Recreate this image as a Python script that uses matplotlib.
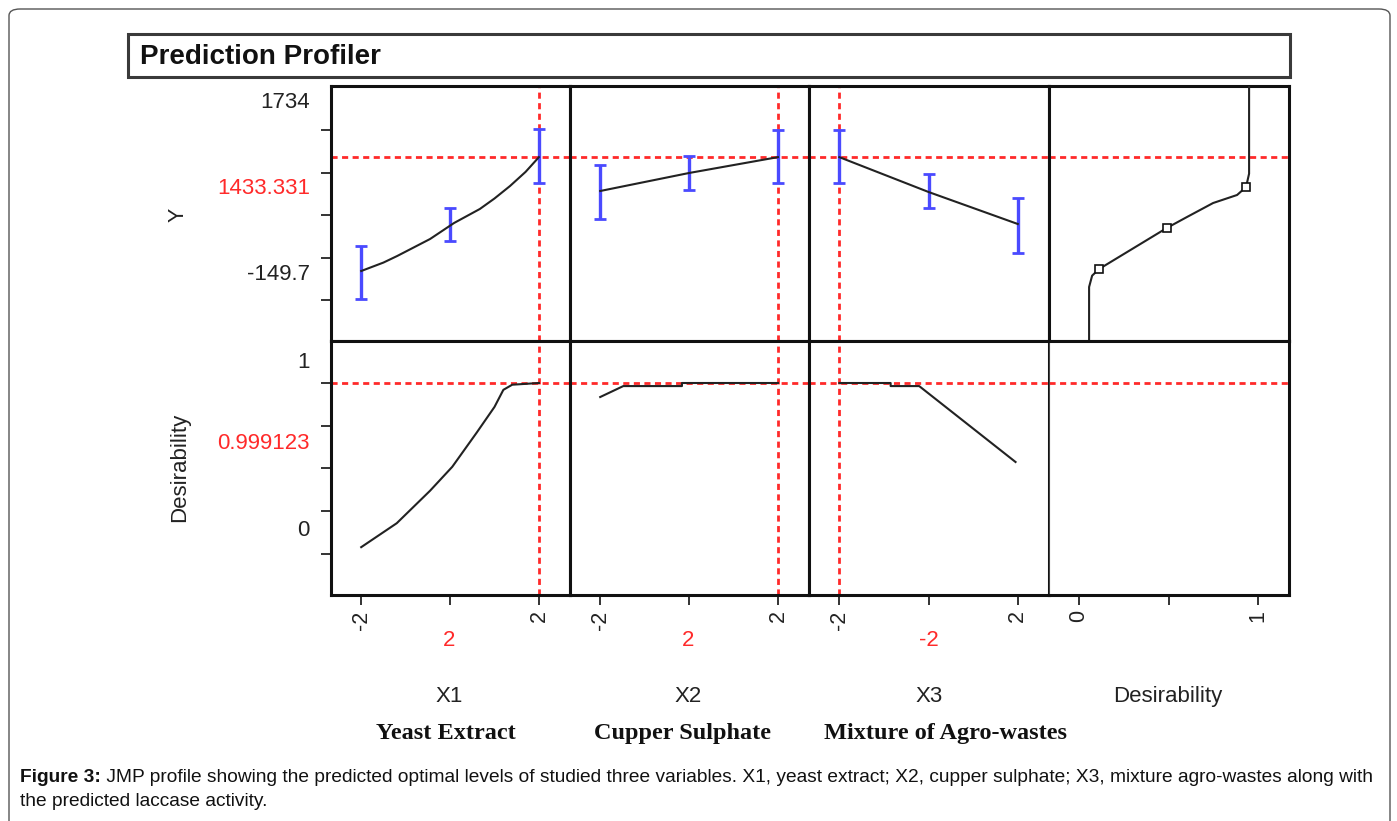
import matplotlib
matplotlib.use('Agg')
import matplotlib.pyplot as plt
from matplotlib.patches import FancyBboxPatch, Rectangle
from matplotlib import font_manager

# ---------------- data ----------------
factors = ['X1', 'X2', 'X3']
factor_names = ['Yeast Extract', 'Cupper Sulphate', 'Mixture of Agro-wastes']
levels = [-2, 0, 2]
level_tick_labels = ['-2', '', '2']
current_level = [2, 2, -2]
current_label = ['2', '2', '-2']

y_current = 1433.331
d_current = 0.999123
y_ticks = [-149.7, 321.2, 792.2, 1263.1, 1734]
d_ticks = [0, 0.25, 0.5, 0.75, 1]
d_col_ticks = [0, 0.5, 1]
d_col_labels = ['0', '', '1']

# predicted Y traces
x1_trace_x = [-2, -1.5, -1.19, -0.45, 0.09, 0.67, 1.0, 1.35, 1.7, 2]
x1_trace_y = [171.6, 265, 337.9, 526.2, 703.5, 858.7, 975, 1113.5, 1270, 1433.3]
x2_trace_x = [-2, 0, 2]
x2_trace_y = [1058.1, 1257.6, 1433.3]
x3_trace_x = [-2, 0, 2]
x3_trace_y = [1433.3, 1047.1, 692.5]

# confidence intervals at the design levels
x1_ci_low = [-138.6, 504.1, 1146.8]
x1_ci_high = [448.7, 869.7, 1745.2]
x2_ci_low = [747.9, 1069.2, 1146.8]
x2_ci_high = [1346.2, 1446.0, 1734.0]
x3_ci_low = [1146.8, 869.7, 371.1]
x3_ci_high = [1734.0, 1246.5, 980.6]

# desirability traces
x1_des_x = [-2, -1.2, -0.45, 0.05, 0.6, 1.0, 1.2, 1.4, 2.0]
x1_des_d = [0.04, 0.18, 0.37, 0.51, 0.71, 0.86, 0.96, 0.99, 1.0]
x2_des_x = [-2, -1.48, -0.16, -0.16, 2]
x2_des_d = [0.918, 0.982, 0.982, 1.0, 1.0]
x3_des_x = [-2, -0.85, -0.85, -0.21, 1.95]
x3_des_d = [1.0, 1.0, 0.982, 0.982, 0.538]

# desirability function (d on x, Y on y)
dfun_d = [0.056, 0.056, 0.073, 0.112, 0.49, 0.603, 0.749, 0.883, 0.933, 0.95, 0.95]
dfun_y = [-604, -5.7, 120, 193.8, 648.1, 770, 925, 1014, 1102.4, 1250, 2222]
dfun_marker_d = [0.112, 0.49, 0.933]
dfun_marker_y = [193.8, 648.1, 1102.4]

# ---------------- figure ----------------
W, H = 1397, 821
fig = plt.figure(figsize=(W / 100, H / 100), dpi=100)


def fx(px):
    return px / W


def fy(py):
    return 1 - py / H


SANS = ['Liberation Sans', 'DejaVu Sans']
SERIF = ['Liberation Serif', 'DejaVu Serif']

# outer rounded border
outer = FancyBboxPatch((fx(9), fy(900)), fx(1390) - fx(9), fy(9) - fy(900),
                       boxstyle="round,pad=0,rounding_size=0.008",
                       transform=fig.transFigure, fill=False,
                       edgecolor='#555555', linewidth=1.0)
fig.patches.append(outer)

# title box
tb = Rectangle((fx(128), fy(77)), fx(1290) - fx(128), fy(34) - fy(77),
               transform=fig.transFigure, fill=False, edgecolor='#3a3a3a',
               linewidth=2.2)
fig.patches.append(tb)
fig.text(fx(140), fy(57), 'Prediction Profiler', fontsize=20, fontweight='bold',
         family=SANS, color='#111111', ha='left', va='center')

col_edges = [331, 570, 809, 1049, 1289]
row_edges = [86, 341, 595]

Y_LIM = (-604.0, 2221.6)
D_LIM = (-0.2398, 1.2456)
X_LIM = (-2.68, 2.70)
DC_LIM = (-0.168, 1.173)

RED = '#ff2a2a'
BLUE = '#4a4aff'
LINE = '#222222'
dash = (0, (2.2, 1.6))

traces = [(x1_trace_x, x1_trace_y), (x2_trace_x, x2_trace_y), (x3_trace_x, x3_trace_y)]
cis = [(x1_ci_low, x1_ci_high), (x2_ci_low, x2_ci_high), (x3_ci_low, x3_ci_high)]
dtraces = [(x1_des_x, x1_des_d), (x2_des_x, x2_des_d), (x3_des_x, x3_des_d)]

axes = {}
for r in range(2):
    for c in range(4):
        l, rr = col_edges[c], col_edges[c + 1]
        t, b = row_edges[r], row_edges[r + 1]
        ax = fig.add_axes([fx(l), fy(b), fx(rr) - fx(l), fy(t) - fy(b)])
        ax.set_xlim(DC_LIM if c == 3 else X_LIM)
        ax.set_ylim(Y_LIM if r == 0 else D_LIM)
        for s in ax.spines.values():
            s.set_linewidth(2.2)
            s.set_color('#111111')
        ax.tick_params(length=0, labelleft=False, labelbottom=False)
        ax.set_xticks([])
        ax.set_yticks([])
        axes[(r, c)] = ax

# top row: Y profiles
for c in range(3):
    ax = axes[(0, c)]
    tx, ty = traces[c]
    lo, hi = cis[c]
    centers = [(a + b) / 2 for a, b in zip(lo, hi)]
    half = [(b - a) / 2 for a, b in zip(lo, hi)]
    ax.errorbar(levels, centers, yerr=half, fmt='none', ecolor=BLUE,
                elinewidth=2.4, capsize=4, capthick=2.0, zorder=3)
    ax.plot(tx, ty, color=LINE, lw=1.5, zorder=4)
    ax.axhline(y_current, color=RED, lw=2, linestyle=dash, zorder=2)
    ax.axvline(current_level[c], color=RED, lw=2, linestyle=dash, zorder=2)

# top-right desirability function
ax = axes[(0, 3)]
ax.plot(dfun_d, dfun_y, color=LINE, lw=1.5, zorder=4)
ax.plot(dfun_marker_d, dfun_marker_y, linestyle='none', marker='s', ms=6,
        mfc='white', mec='#111111', mew=1.2, zorder=5)
ax.axhline(y_current, color=RED, lw=2, linestyle=dash, zorder=2)

# bottom row desirability traces
for c in range(3):
    ax = axes[(1, c)]
    dx, dd = dtraces[c]
    ax.plot(dx, dd, color=LINE, lw=1.5, zorder=4)
    ax.axhline(d_current, color=RED, lw=2, linestyle=dash, zorder=2)
    ax.axvline(current_level[c], color=RED, lw=2, linestyle=dash, zorder=2)
ax = axes[(1, 3)]
ax.axhline(d_current, color=RED, lw=2, linestyle=dash, zorder=2)
ax.spines['left'].set_linewidth(0.8)
ax.spines['left'].set_color('#444444')

# ticks
tick_kw = dict(direction='out', length=7, width=1.4, color='#333333')
axes[(0, 0)].set_yticks(y_ticks)
axes[(0, 0)].tick_params(axis='y', labelleft=False, **tick_kw)
axes[(1, 0)].set_yticks(d_ticks)
axes[(1, 0)].tick_params(axis='y', labelleft=False, **tick_kw)
for c in range(3):
    a = axes[(1, c)]
    a.set_xticks(levels)
    a.set_xticklabels(level_tick_labels, rotation=90, family=SANS, fontsize=15.5,
                      color='#222222')
    a.tick_params(axis='x', labelbottom=True, pad=4, **tick_kw)
a = axes[(1, 3)]
a.set_xticks(d_col_ticks)
a.set_xticklabels(d_col_labels, rotation=90, family=SANS, fontsize=15.5, color='#222222')
a.tick_params(axis='x', labelbottom=True, pad=4, **tick_kw)

# y-axis labels (JMP style positions)
lab = dict(family=SANS, fontsize=16, ha='right', va='center')
fig.text(fx(310), fy(103), '1734', color='#222222', **lab)
fig.text(fx(310), fy(188), '1433.331', color=RED, **lab)
fig.text(fx(310), fy(274), '-149.7', color='#222222', **lab)
fig.text(fx(310), fy(362), '1', color='#222222', **lab)
fig.text(fx(310), fy(443), '0.999123', color=RED, **lab)
fig.text(fx(310), fy(530), '0', color='#222222', **lab)
fig.text(fx(178), fy(215), 'Y', rotation=90, family=SANS, fontsize=15.5,
         color='#222222', ha='center', va='center')
fig.text(fx(180), fy(467), 'Desirability', rotation=90, family=SANS, fontsize=16,
         color='#222222', ha='center', va='center')

# current values and factor labels
cur_x = [449, 688, 929]
for c in range(3):
    fig.text(fx(cur_x[c]), fy(640), current_label[c], color=RED, family=SANS,
             fontsize=16, ha='center', va='center')
    fig.text(fx(cur_x[c]), fy(696), factors[c], color='#222222', family=SANS,
             fontsize=16, ha='center', va='center')
fig.text(fx(1168), fy(696), 'Desirability', color='#222222', family=SANS,
         fontsize=16, ha='center', va='center')
name_x = [446, 683, 946]
for c in range(3):
    fig.text(fx(name_x[c]), fy(733), factor_names[c], color='#111111', family=SERIF,
             fontsize=17.5, fontweight='bold', ha='center', va='center')

# caption
def has_font(name):
    try:
        font_manager.findfont(font_manager.FontProperties(family=name),
                              fallback_to_default=False)
        return True
    except Exception:
        return False

if has_font('Liberation Sans Narrow'):
    cap_family, cap_size = ['Liberation Sans Narrow'], 14.2
else:
    cap_family, cap_size = ['Liberation Sans'], 13.8

line1_bold = 'Figure 3:'
line1_rest = (' JMP profile showing the predicted optimal levels of studied three variables. '
              'X1, yeast extract; X2, cupper sulphate; X3, mixture agro-wastes along with')
line2 = 'the predicted laccase activity.'
t1 = fig.text(fx(20), fy(777), line1_bold, family=cap_family, fontsize=cap_size,
              fontweight='bold', color='#111111', ha='left', va='center')
fig.canvas.draw()
bb = t1.get_window_extent(renderer=fig.canvas.get_renderer())
fig.text(bb.x1 / W, fy(777), line1_rest, family=cap_family, fontsize=cap_size,
         color='#111111', ha='left', va='center')
fig.text(fx(20), fy(801), line2, family=cap_family, fontsize=cap_size,
         color='#111111', ha='left', va='center')

fig.savefig('out.png', dpi=100)
